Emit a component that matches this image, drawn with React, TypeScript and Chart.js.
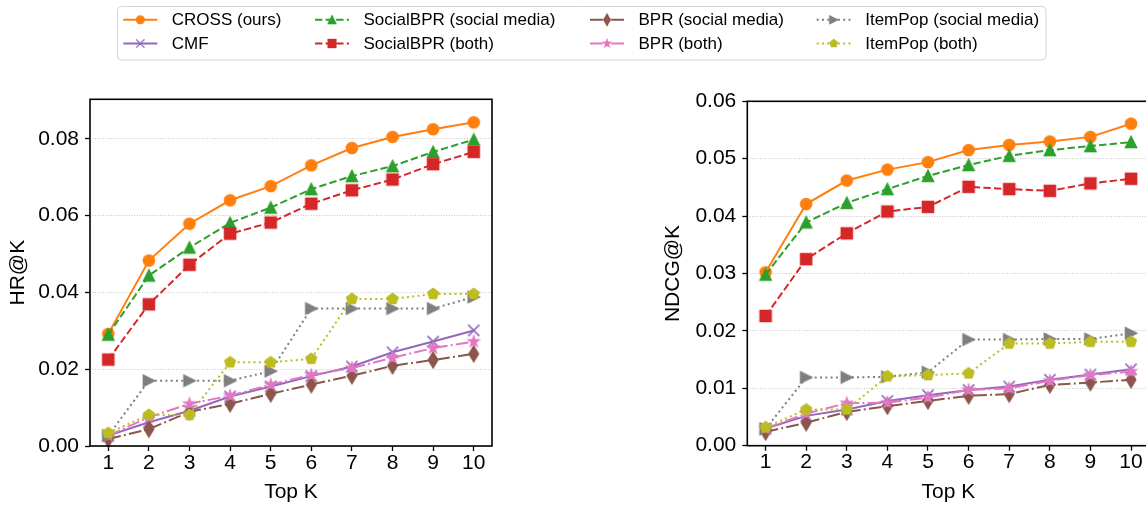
import React, { useEffect, useRef } from 'react';
import { Chart, registerables } from 'chart.js';

Chart.register(...registerables);

// ---------------- data ----------------
const TOP_K = [1, 2, 3, 4, 5, 6, 7, 8, 9, 10];

const SERIES_NAMES = [
  'CROSS (ours)',
  'CMF',
  'SocialBPR (social media)',
  'SocialBPR (both)',
  'BPR (social media)',
  'BPR (both)',
  'ItemPop (social media)',
  'ItemPop (both)',
];

const HR_CROSS = [0.0292, 0.0483, 0.0579, 0.064, 0.0677, 0.0731, 0.0776, 0.0805, 0.0825, 0.0843];
const HR_CMF = [0.0027, 0.0062, 0.0092, 0.0129, 0.0155, 0.0182, 0.0207, 0.0244, 0.0272, 0.0301];
const HR_SOCIALBPR_SM = [0.029, 0.0444, 0.0517, 0.0581, 0.0621, 0.0669, 0.0703, 0.0729, 0.0766, 0.0798];
const HR_SOCIALBPR_BOTH = [0.0225, 0.0369, 0.0472, 0.0553, 0.0582, 0.0631, 0.0666, 0.0694, 0.0734, 0.0766];
const HR_BPR_SM = [0.0018, 0.0044, 0.0089, 0.011, 0.0136, 0.016, 0.0183, 0.0209, 0.0224, 0.024];
const HR_BPR_BOTH = [0.0027, 0.0075, 0.011, 0.0131, 0.016, 0.0185, 0.0203, 0.023, 0.0255, 0.0272];
const HR_ITEMPOP_SM = [0.0027, 0.017, 0.017, 0.017, 0.0195, 0.0358, 0.0358, 0.0358, 0.0358, 0.0388];
const HR_ITEMPOP_BOTH = [0.0034, 0.0081, 0.0081, 0.0218, 0.0218, 0.0227, 0.0383, 0.0383, 0.0396, 0.0396];

const NDCG_CROSS = [0.0302, 0.0421, 0.0462, 0.0481, 0.0494, 0.0515, 0.0524, 0.053, 0.0538, 0.0561];
const NDCG_CMF = [0.003, 0.0052, 0.0063, 0.0078, 0.0088, 0.0097, 0.0103, 0.0115, 0.0124, 0.0133];
const NDCG_SOCIALBPR_SM = [0.0298, 0.0389, 0.0423, 0.0447, 0.047, 0.0489, 0.0505, 0.0515, 0.0522, 0.0529];
const NDCG_SOCIALBPR_BOTH = [0.0226, 0.0325, 0.037, 0.0408, 0.0416, 0.0451, 0.0447, 0.0444, 0.0457, 0.0465];
const NDCG_BPR_SM = [0.0024, 0.004, 0.0059, 0.0069, 0.0078, 0.0087, 0.009, 0.0106, 0.011, 0.0115];
const NDCG_BPR_BOTH = [0.003, 0.0056, 0.0074, 0.0075, 0.0084, 0.0097, 0.01, 0.0113, 0.0123, 0.0129];
const NDCG_ITEMPOP_SM = [0.0029, 0.0119, 0.0119, 0.012, 0.0128, 0.0185, 0.0185, 0.0186, 0.0186, 0.0196];
const NDCG_ITEMPOP_BOTH = [0.0032, 0.0063, 0.0063, 0.0121, 0.0123, 0.0126, 0.0178, 0.0178, 0.0181, 0.0181];

const HR_SERIES = [HR_CROSS, HR_CMF, HR_SOCIALBPR_SM, HR_SOCIALBPR_BOTH, HR_BPR_SM, HR_BPR_BOTH, HR_ITEMPOP_SM, HR_ITEMPOP_BOTH];
const NDCG_SERIES = [NDCG_CROSS, NDCG_CMF, NDCG_SOCIALBPR_SM, NDCG_SOCIALBPR_BOTH, NDCG_BPR_SM, NDCG_BPR_BOTH, NDCG_ITEMPOP_SM, NDCG_ITEMPOP_BOTH];

const HR_TICKS = [0, 0.02, 0.04, 0.06, 0.08];
const NDCG_TICKS = [0, 0.01, 0.02, 0.03, 0.04, 0.05, 0.06];
const HR_MAX = 0.0903;
const NDCG_MAX = 0.06;
const X_MIN = 0.55;
const X_MAX = 10.45;

// ---------------- styles ----------------
const COLORS = ['#ff7f0e', '#9467bd', '#2ca02c', '#d62728', '#8c564b', '#e377c2', '#7f7f7f', '#bcbd22'];
const MARKERS = ['circle', 'x', 'triUp', 'square', 'thinDiamond', 'star', 'triRight', 'pentagon'];
const DASH_SOLID: number[] = [];
const DASH_DASHED = [7.4, 3.2];
const DASH_DASHDOT = [12.8, 3.2, 2, 3.2];
const DASH_DOTTED = [2, 3.3];
const DASHES = [DASH_SOLID, DASH_SOLID, DASH_DASHED, DASH_DASHED, DASH_DASHDOT, DASH_DASHDOT, DASH_DOTTED, DASH_DOTTED];

const FONT = "'Liberation Sans', Arial, Helvetica, sans-serif";
const TICK_SIZE = 21;
const TITLE_SIZE = 21;
const MARKER_CANVAS = 24;

function makeMarker(shape: string, color: string): HTMLCanvasElement {
  const S = MARKER_CANVAS;
  const c = document.createElement('canvas');
  c.width = S;
  c.height = S;
  const g = c.getContext('2d')!;
  g.translate(S / 2, S / 2);
  const r = 5.6;
  g.fillStyle = color;
  g.strokeStyle = color;
  g.lineWidth = 1.4;
  g.lineJoin = 'miter';
  g.beginPath();
  if (shape === 'circle') {
    g.arc(0, 0, r, 0, Math.PI * 2);
  } else if (shape === 'square') {
    g.rect(-r, -r, 2 * r, 2 * r);
  } else if (shape === 'triUp') {
    g.moveTo(0, -r);
    g.lineTo(r, r);
    g.lineTo(-r, r);
    g.closePath();
  } else if (shape === 'triRight') {
    g.moveTo(r, 0);
    g.lineTo(-r, r);
    g.lineTo(-r, -r);
    g.closePath();
  } else if (shape === 'thinDiamond') {
    const h = r * Math.SQRT2;
    const w = 0.6 * h;
    g.moveTo(0, -h);
    g.lineTo(w, 0);
    g.lineTo(0, h);
    g.lineTo(-w, 0);
    g.closePath();
  } else if (shape === 'pentagon') {
    for (let k = 0; k < 5; k++) {
      const a = -Math.PI / 2 + (k * 2 * Math.PI) / 5;
      const px = Math.cos(a) * r;
      const py = Math.sin(a) * r;
      if (k === 0) g.moveTo(px, py);
      else g.lineTo(px, py);
    }
    g.closePath();
  } else if (shape === 'star') {
    for (let k = 0; k < 10; k++) {
      const a = -Math.PI / 2 + (k * Math.PI) / 5;
      const rr = k % 2 === 0 ? r : r * 0.381966;
      const px = Math.cos(a) * rr;
      const py = Math.sin(a) * rr;
      if (k === 0) g.moveTo(px, py);
      else g.lineTo(px, py);
    }
    g.closePath();
  } else if (shape === 'x') {
    g.lineWidth = 1.6;
    g.moveTo(-r, -r);
    g.lineTo(r, r);
    g.moveTo(-r, r);
    g.lineTo(r, -r);
    g.stroke();
    return c;
  }
  g.fill();
  g.stroke();
  return c;
}

const framePlugin = {
  id: 'frameBox',
  afterDatasetsDraw(chart: any) {
    const { ctx, chartArea } = chart;
    const { left, top, right, bottom } = chartArea;
    ctx.save();
    ctx.strokeStyle = '#000';
    ctx.lineWidth = 1.6;
    ctx.setLineDash([]);
    ctx.strokeRect(left, top, right - left, bottom - top);
    ctx.restore();
  },
};

// legend layout (positions in px)
const LEG_BOX = { x: 117.5, y: 6.5, w: 928.5, h: 53.5, r: 4 };
const LEG_COLS = [123.3, 315, 590, 816.7];
const LEG_ROWS = [19.8, 43.5];
const LEG_LINE = 34;
const LEG_TEXT_OFF = 48.5;
const LEG_MARKER_SCALE = 0.73;

const legendPlugin = {
  id: 'gridLegend',
  afterDraw(chart: any) {
    const ctx: CanvasRenderingContext2D = chart.ctx;
    ctx.save();
    ctx.beginPath();
    const { x, y, w, h, r } = LEG_BOX;
    ctx.moveTo(x + r, y);
    ctx.lineTo(x + w - r, y);
    ctx.arcTo(x + w, y, x + w, y + r, r);
    ctx.lineTo(x + w, y + h - r);
    ctx.arcTo(x + w, y + h, x + w - r, y + h, r);
    ctx.lineTo(x + r, y + h);
    ctx.arcTo(x, y + h, x, y + h - r, r);
    ctx.lineTo(x, y + r);
    ctx.arcTo(x, y, x + r, y, r);
    ctx.closePath();
    ctx.fillStyle = 'rgba(255,255,255,0.9)';
    ctx.fill();
    ctx.strokeStyle = '#d4d4d4';
    ctx.lineWidth = 1;
    ctx.stroke();

    const ds = chart.data.datasets;
    ds.forEach((d: any, i: number) => {
      const col = Math.floor(i / 2);
      const row = i % 2;
      const x0 = LEG_COLS[col];
      const yc = LEG_ROWS[row];
      ctx.save();
      ctx.strokeStyle = d.borderColor;
      ctx.lineWidth = d.borderWidth;
      ctx.setLineDash(d.borderDash || []);
      ctx.beginPath();
      ctx.moveTo(x0, yc);
      ctx.lineTo(x0 + LEG_LINE, yc);
      ctx.stroke();
      ctx.restore();
      const img = d.pointStyle as HTMLCanvasElement;
      const s = MARKER_CANVAS * LEG_MARKER_SCALE;
      ctx.drawImage(img, x0 + LEG_LINE / 2 - s / 2, yc - s / 2, s, s);
      ctx.fillStyle = '#000';
      ctx.font = `17px ${FONT}`;
      ctx.textBaseline = 'middle';
      ctx.textAlign = 'left';
      ctx.fillText(d.label, x0 + LEG_TEXT_OFF, yc + 0.5);
    });
    ctx.restore();
  },
};

function buildDatasets(series: number[][], markers: HTMLCanvasElement[]) {
  return series.map((vals, i) => ({
    label: SERIES_NAMES[i],
    data: TOP_K.map((k, j) => ({ x: k, y: vals[j] })),
    borderColor: COLORS[i],
    backgroundColor: COLORS[i],
    borderWidth: 2,
    borderDash: DASHES[i],
    pointStyle: markers[i],
    pointRadius: 6,
    pointHoverRadius: 6,
    tension: 0,
    fill: false,
    clip: false,
    order: series.length - i,
  }));
}

function buildConfig(opts: {
  series: number[][];
  markers: HTMLCanvasElement[];
  yTicks: number[];
  yMax: number;
  yTitle: string;
  yAxisWidth: number;
  xAxisHeight: number;
  padding: { left: number; top: number; right: number; bottom: number };
  yTitlePad: number;
  plugins: any[];
}): any {
  return {
    type: 'line',
    data: { datasets: buildDatasets(opts.series, opts.markers) },
    plugins: opts.plugins,
    options: {
      responsive: false,
      animation: false,
      devicePixelRatio: 1,
      layout: { padding: opts.padding },
      plugins: { legend: { display: false }, tooltip: { enabled: false } },
      events: [],
      scales: {
        x: {
          type: 'linear',
          min: X_MIN,
          max: X_MAX,
          afterBuildTicks: (s: any) => {
            s.ticks = TOP_K.map((v) => ({ value: v }));
          },
          afterFit: (s: any) => {
            s.height = opts.xAxisHeight;
          },
          ticks: {
            autoSkip: false,
            maxRotation: 0,
            minRotation: 0,
            color: '#000',
            padding: 1.5,
            font: { family: FONT, size: TICK_SIZE, lineHeight: 1 },
            callback: (v: any) => String(v),
          },
          grid: {
            drawOnChartArea: false,
            drawTicks: true,
            tickLength: 5,
            tickColor: '#000',
            tickWidth: 1.3,
          },
          border: { display: false },
          title: {
            display: true,
            text: 'Top K',
            color: '#000',
            font: { family: FONT, size: TITLE_SIZE, lineHeight: 1 },
            padding: { top: 0, bottom: 5 },
          },
        },
        y: {
          type: 'linear',
          min: 0,
          max: opts.yMax,
          afterBuildTicks: (s: any) => {
            s.ticks = opts.yTicks.map((v) => ({ value: v }));
          },
          afterFit: (s: any) => {
            s.width = opts.yAxisWidth;
          },
          ticks: {
            color: '#000',
            padding: 6,
            font: { family: FONT, size: TICK_SIZE, lineHeight: 1 },
            callback: (v: any) => Number(v).toFixed(2),
          },
          grid: {
            drawOnChartArea: true,
            color: '#b8b8b8',
            lineWidth: 0.8,
            drawTicks: true,
            tickLength: 5,
            tickColor: '#000',
            tickWidth: 1.3,
            tickBorderDash: [],
          },
          border: { display: false, dash: [1, 1.6] },
          title: {
            display: true,
            text: opts.yTitle,
            color: '#000',
            font: { family: FONT, size: TITLE_SIZE, lineHeight: 1 },
            padding: { top: opts.yTitlePad, bottom: 0 },
          },
        },
      },
    },
  };
}

export default function App() {
  const refA = useRef<HTMLCanvasElement>(null);
  const refB = useRef<HTMLCanvasElement>(null);

  useEffect(() => {
    const markersA = MARKERS.map((m, i) => makeMarker(m, COLORS[i]));
    const markersB = MARKERS.map((m, i) => makeMarker(m, COLORS[i]));
    const chartA = new Chart(
      refA.current!,
      buildConfig({
        series: HR_SERIES,
        markers: markersA,
        yTicks: HR_TICKS,
        yMax: HR_MAX,
        yTitle: 'HR@K',
        yAxisWidth: 90,
        xAxisHeight: 62,
        padding: { left: 0, top: 99.3, right: 654, bottom: 0 },
        yTitlePad: 7.5,
        plugins: [framePlugin, legendPlugin],
      })
    );
    const chartB = new Chart(
      refB.current!,
      buildConfig({
        series: NDCG_SERIES,
        markers: markersB,
        yTicks: NDCG_TICKS,
        yMax: NDCG_MAX,
        yTitle: 'NDCG@K',
        yAxisWidth: 97.3,
        xAxisHeight: 62.3,
        padding: { left: 0, top: 101.3, right: 30.7, bottom: 0 },
        yTitlePad: 13,
        plugins: [framePlugin],
      })
    );
    return () => {
      chartA.destroy();
      chartB.destroy();
    };
  }, []);

  return (
    <div
      style={{
        position: 'fixed',
        left: 0,
        top: 0,
        width: 1146,
        height: 508,
        overflow: 'hidden',
        background: '#fff',
      }}
    >
      <canvas
        ref={refA}
        width={1146}
        height={508}
        style={{ position: 'absolute', left: 0, top: 0, width: 1146, height: 508 }}
      />
      <canvas
        ref={refB}
        width={530}
        height={508}
        style={{ position: 'absolute', left: 650, top: 0, width: 530, height: 508 }}
      />
    </div>
  );
}
